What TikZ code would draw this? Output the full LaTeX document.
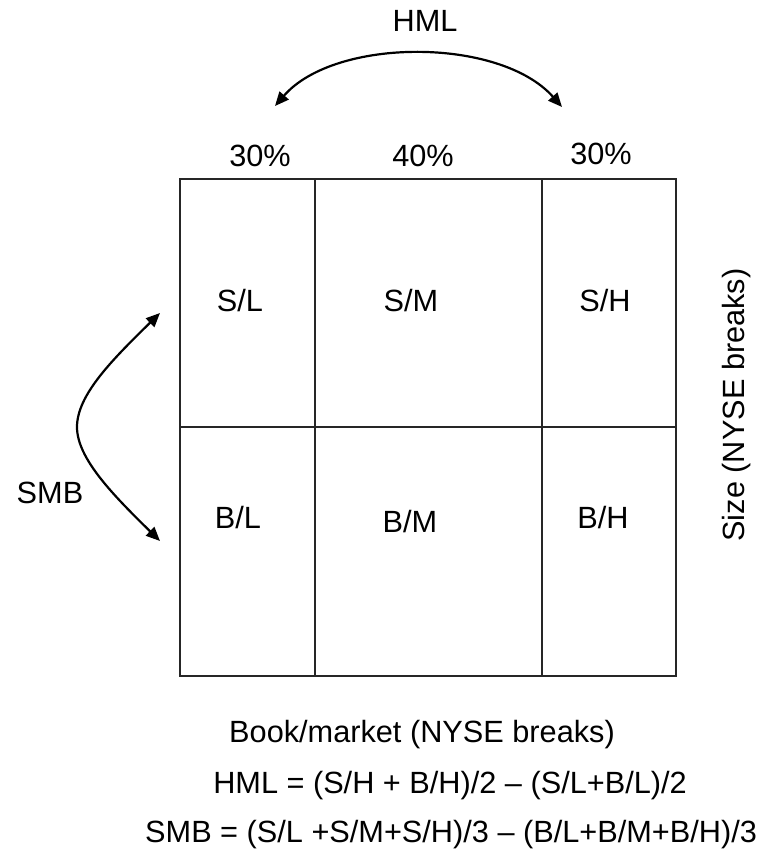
\documentclass[tikz,border=0pt]{standalone}
\usepackage{fontspec}
\setmainfont{Liberation Sans}
\usetikzlibrary{arrows.meta}
\begin{document}
\begin{tikzpicture}[x=1bp,y=-1bp,
  lbl/.style={inner sep=0pt, anchor=base, font=\fontsize{30.7bp}{36bp}\selectfont},
  grid/.style={line width=1.2bp, draw=black!85},
  curvearrow/.style={line width=2.2bp, {Triangle[length=14bp,width=12bp]}-{Triangle[length=14bp,width=12bp]}}]
\useasboundingbox (0,0) rectangle (759,854);
% grid
\coordinate (tl) at (180,179);
\coordinate (br) at (676,676);
\draw[grid] (tl) rectangle (br);
\draw[grid] (315,179) -- (315,676);
\draw[grid] (542,179) -- (542,676);
\draw[grid] (180,427) -- (676,427);
% labels
\node[lbl] (hml) at (425,31) {HML};
\node[lbl] (p1) at (260,166) {30\%};
\node[lbl] (p2) at (423,166) {40\%};
\node[lbl] (p3) at (601,164) {30\%};
\node[lbl] (sl) at (240,311) {S/L};
\node[lbl] (sm) at (411,311) {S/M};
\node[lbl] (sh) at (605,311) {S/H};
\node[lbl] (bl) at (238,528) {B/L};
\node[lbl] (bm) at (410,532) {B/M};
\node[lbl] (bh) at (603,528) {B/H};
\node[lbl] (smb) at (50,503) {SMB};
\node[lbl, anchor=center, rotate=90] (size) at (737,405) {Size (NYSE breaks)};
\node[lbl] (bk) at (422,742) {Book/market (NYSE breaks)};
\node[lbl] (f1) at (450,793) {HML = (S/H + B/H)/2 – (S/L+B/L)/2};
\node[lbl, anchor=base west] (f2) at (145,842) {SMB = (S/L +S/M+S/H)/3 – (B/L+B/M+B/H)/3};
% arrows
\coordinate (ha) at (275,106);
\coordinate (hb) at (562,107);
\draw[curvearrow] (ha) .. controls (335,37) and (500,37) .. (hb);
\coordinate (sa) at (160,313);
\coordinate (sm1) at (77,427);
\coordinate (sb) at (160,541);
\draw[curvearrow] (sa) .. controls (112,360) and (77,395) .. (sm1) .. controls (77,458) and (112,494) .. (sb);
\end{tikzpicture}
\end{document}
